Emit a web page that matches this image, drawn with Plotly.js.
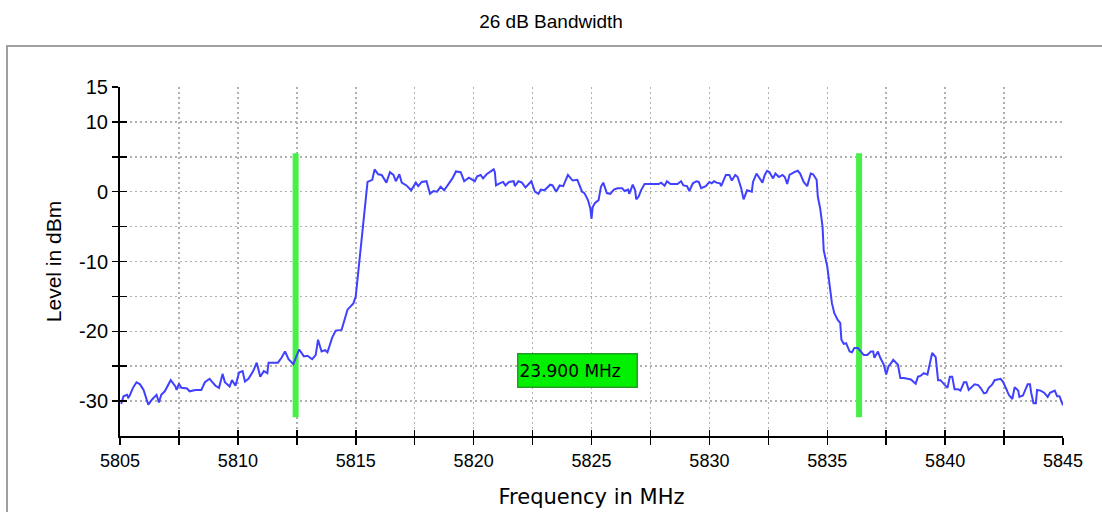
<!DOCTYPE html>
<html>
<head>
<meta charset="utf-8">
<script src="https://cdn.plot.ly/plotly-3.0.1.min.js"></script>
<style>
  html, body { margin: 0; padding: 0; background: #ffffff; }
  #chart { width: 1102px; height: 512px; }
</style>
</head>
<body>
<div id="chart"></div>
<script>
// ---- Data ----
const freq = [
  5805.05, 5805.15, 5805.3, 5805.35, 5805.4, 5805.55, 5805.7, 5805.85, 5806.0, 5806.2,
  5806.35, 5806.55, 5806.65, 5806.75, 5806.9, 5807.15, 5807.35, 5807.4, 5807.5, 5807.6,
  5807.85, 5807.95, 5808.2, 5808.45, 5808.6, 5808.8, 5808.9, 5809.05, 5809.2, 5809.35,
  5809.45, 5809.65, 5809.75, 5809.9, 5810.05, 5810.2, 5810.3, 5810.45, 5810.65, 5810.8,
  5810.95, 5811.1, 5811.25, 5811.3, 5811.5, 5811.7, 5811.85, 5812.0, 5812.15, 5812.35,
  5812.6, 5812.8, 5812.95, 5813.15, 5813.3, 5813.4, 5813.55, 5813.7, 5813.8, 5814.0,
  5814.15, 5814.4, 5814.65, 5814.9, 5815.0, 5815.1, 5815.2, 5815.3, 5815.4, 5815.5,
  5815.7, 5815.8, 5815.95, 5816.1, 5816.3, 5816.45, 5816.6, 5816.7, 5816.85, 5816.95,
  5817.15, 5817.35, 5817.55, 5817.65, 5817.8, 5818.0, 5818.15, 5818.3, 5818.45, 5818.6,
  5818.75, 5818.95, 5819.1, 5819.25, 5819.45, 5819.6, 5819.8, 5820.05, 5820.15, 5820.3,
  5820.4, 5820.55, 5820.85, 5820.9, 5820.95, 5821.1, 5821.25, 5821.35, 5821.5, 5821.7,
  5821.75, 5821.9, 5822.05, 5822.2, 5822.35, 5822.45, 5822.6, 5822.75, 5822.85, 5823.0,
  5823.25, 5823.35, 5823.5, 5823.65, 5823.8, 5824.0, 5824.2, 5824.4, 5824.6, 5824.7,
  5824.85, 5824.95, 5825.0, 5825.05, 5825.15, 5825.3, 5825.4, 5825.5, 5825.65, 5825.8,
  5825.95, 5826.1, 5826.3, 5826.4, 5826.55, 5826.6, 5826.75, 5826.85, 5826.9, 5827.0,
  5827.1, 5827.25, 5827.5, 5827.85, 5827.95, 5828.1, 5828.2, 5828.35, 5828.65, 5828.8,
  5828.9, 5829.05, 5829.15, 5829.3, 5829.45, 5829.55, 5829.65, 5829.85, 5830.0, 5830.1,
  5830.2, 5830.3, 5830.45, 5830.5, 5830.7, 5830.85, 5830.95, 5831.1, 5831.2, 5831.35,
  5831.45, 5831.6, 5831.8, 5831.85, 5832.0, 5832.15, 5832.25, 5832.35, 5832.45, 5832.55,
  5832.7, 5832.8, 5832.95, 5833.1, 5833.2, 5833.3, 5833.4, 5833.6, 5833.75, 5833.85,
  5834.0, 5834.15, 5834.3, 5834.4, 5834.55, 5834.6, 5834.7, 5834.8, 5834.85, 5835.0,
  5835.1, 5835.2, 5835.3, 5835.45, 5835.55, 5835.6, 5835.7, 5835.8, 5835.95, 5836.05,
  5836.15, 5836.3, 5836.55, 5836.7, 5836.85, 5836.95, 5837.0, 5837.15, 5837.25, 5837.4,
  5837.5, 5837.6, 5837.7, 5837.8, 5838.0, 5838.1, 5838.25, 5838.4, 5838.55, 5838.75,
  5838.85, 5838.95, 5839.1, 5839.25, 5839.3, 5839.45, 5839.6, 5839.7, 5839.8, 5839.95,
  5840.1, 5840.2, 5840.3, 5840.4, 5840.55, 5840.65, 5840.8, 5840.9, 5841.0, 5841.25,
  5841.4, 5841.5, 5841.65, 5841.75, 5841.85, 5842.0, 5842.1, 5842.35, 5842.45, 5842.6,
  5842.7, 5842.85, 5842.95, 5843.1, 5843.15, 5843.3, 5843.5, 5843.6, 5843.65, 5843.75,
  5843.85, 5843.9, 5844.05, 5844.2, 5844.35, 5844.45, 5844.65, 5844.75, 5844.85, 5845.0
];
const level = [
  -30.4, -29.3, -29.1, -29.5, -29.3, -28.1, -27.3, -27.6, -28.4, -30.5,
  -29.8, -29.1, -30.2, -29.1, -28.6, -27.0, -27.9, -28.4, -27.5, -28.1,
  -28.2, -28.6, -28.4, -28.4, -27.3, -26.8, -27.2, -27.8, -28.1, -26.1,
  -27.3, -27.9, -27.0, -27.8, -25.9, -25.7, -27.2, -26.8, -25.7, -24.5,
  -26.5, -25.7, -26.0, -24.5, -24.5, -24.5, -23.8, -22.9, -24.0, -24.7,
  -22.6, -23.6, -23.5, -24.0, -23.4, -21.2, -22.9, -22.7, -23.0, -20.9,
  -19.9, -19.8, -16.9, -16.0, -15.0, -11.7, -8.8, -4.5, -1.2, 1.4,
  1.7, 3.2, 2.5, 2.4, 1.3, 2.8, 2.4, 1.5, 2.5, 1.3,
  0.9, 0.2, 1.3, 0.8, 1.4, 1.5, -0.3, 0.1, 0.0, 0.7,
  0.2, 1.2, 1.9, 2.9, 2.8, 1.5, 2.0, 1.5, 2.2, 2.4,
  1.9, 2.5, 3.2, 2.8, 0.9, 1.2, 1.4, 0.9, 1.4, 1.5,
  0.8, 1.5, 1.3, 0.6, 1.1, 1.5, 0.0, -0.3, 0.3, 0.2,
  1.0, 0.9, 0.0, 0.9, 0.8, 2.4, 1.6, 1.7, 0.0, -0.2,
  -1.2, -2.4, -3.9, -2.2, -1.6, -1.2, 0.7, 1.3, -0.2, -0.3,
  0.3, 0.5, 0.5, 0.1, 0.3, -0.3, 1.0, 0.2, -1.1, -0.7,
  0.2, 1.1, 1.1, 1.1, 1.3, 0.85, 1.5, 1.1, 1.1, 1.5,
  0.9, 0.8, 0.1, 1.2, 1.5, 1.4, 0.5, 0.8, 1.4, 1.2,
  1.5, 1.3, 1.2, 0.8, 2.4, 2.4, 1.6, 2.4, 2.1, 0.5,
  -1.1, 0.2, 0.0, 1.4, 2.6, 1.9, 1.3, 2.4, 3.0, 2.8,
  1.9, 2.6, 2.1, 2.4, 2.1, 1.1, 2.4, 2.8, 3.0, 2.6,
  1.4, 0.8, 2.6, 2.5, 1.7, -0.7, -2.4, -5.0, -8.4, -10.7,
  -13.6, -16.0, -17.4, -18.4, -18.8, -21.2, -21.8, -21.7, -22.9, -23.0,
  -22.4, -22.4, -23.4, -23.4, -22.9, -22.9, -23.8, -22.9, -23.8, -24.8,
  -26.2, -25.0, -24.6, -24.1, -24.8, -26.7, -26.7, -26.8, -26.9, -27.5,
  -26.5, -26.4, -26.0, -26.2, -25.5, -23.1, -23.7, -27.0, -27.0, -27.5,
  -28.1, -26.5, -26.5, -28.3, -28.3, -28.5, -27.3, -27.3, -28.4, -27.6,
  -27.7, -28.1, -28.9, -28.8, -28.1, -27.6, -27.0, -26.8, -27.2, -28.3,
  -29.1, -29.7, -28.0, -28.5, -29.4, -29.2, -27.6, -27.6, -28.8, -30.3,
  -30.3, -28.4, -28.5, -28.8, -29.4, -28.8, -28.5, -29.3, -29.3, -30.6
];

// Bandwidth markers (MHz) and their vertical extent (dBm)
const markerFreqs = [5812.45, 5836.35];
const markerTop = 5.5;
const markerBottom = -32.3;
const bandwidthLabel = '23.900 MHz';
const labelLevel = -25.6;

// Axis ticks
const xTickVals = [5805, 5807.5, 5810, 5812.5, 5815, 5817.5, 5820, 5822.5, 5825,
                   5827.5, 5830, 5832.5, 5835, 5837.5, 5840, 5842.5, 5845];
const xTickText = ['5805', '', '5810', '', '5815', '', '5820', '', '5825',
                   '', '5830', '', '5835', '', '5840', '', '5845'];
const yTickVals = [-30, -25, -20, -15, -10, -5, 0, 5, 10, 15];
const yTickText = ['-30', '', '-20', '', '-10', '', '0', '', '10', '15'];
const xRange = [5805, 5845];
const yRange = [-35, 15];

// ---- Traces ----
const traces = [];
markerFreqs.forEach(function (f) {
  traces.push({
    x: [f, f], y: [markerTop, markerBottom],
    type: 'scatter', mode: 'lines',
    line: { color: '#47f047', width: 6 },
    hoverinfo: 'skip', showlegend: false
  });
});
traces.push({
  x: freq, y: level, type: 'scatter', mode: 'lines',
  line: { color: '#4040ff', width: 2 },
  name: 'Level', showlegend: false
});
// invisible helper trace so the overlay axes (inside tick halves) are drawn
traces.push({
  x: freq, y: level, type: 'scatter', mode: 'lines',
  xaxis: 'x2', yaxis: 'y2',
  line: { width: 0, color: 'rgba(0,0,0,0)' },
  hoverinfo: 'skip', showlegend: false
});

const bodyFont = 'Liberation Sans, Arial, sans-serif';

const layout = {
  width: 1102, height: 512,
  margin: { l: 120, r: 39, t: 87, b: 76, pad: 0 },
  paper_bgcolor: '#ffffff',
  plot_bgcolor: '#ffffff',
  showlegend: false,
  font: { family: bodyFont, size: 17, color: '#000000' },
  title: {
    text: '26 dB Bandwidth',
    xref: 'container', x: 0.5, xanchor: 'center',
    yref: 'container', y: 1 - 21 / 512, yanchor: 'middle',
    font: { family: bodyFont, size: 19, color: '#000000' }
  },
  xaxis: {
    range: xRange, tickmode: 'array', tickvals: xTickVals, ticktext: xTickText,
    ticks: 'outside', ticklen: 7, tickwidth: 1.5, tickcolor: '#000000',
    showline: true, linecolor: '#000000', linewidth: 2,
    showgrid: true, gridcolor: '#b0b0b0', gridwidth: 1.5, griddash: '2px,3px',
    zeroline: false,
    tickfont: { family: bodyFont, size: 18 },
    title: { text: 'Frequency in MHz', font: { family: 'DejaVu Sans, sans-serif', size: 21 }, standoff: 20 },
    automargin: false
  },
  yaxis: {
    range: yRange, tickmode: 'array', tickvals: yTickVals, ticktext: yTickText,
    ticks: 'outside', ticklen: 6, tickwidth: 1.5, tickcolor: '#000000',
    showline: true, linecolor: '#000000', linewidth: 2,
    showgrid: true, gridcolor: '#b0b0b0', gridwidth: 1.5, griddash: '2px,3px',
    zeroline: false,
    tickfont: { family: bodyFont, size: 20 },
    title: { text: 'Level in dBm', font: { family: 'Liberation Sans, Arial, sans-serif', size: 21 }, standoff: 12 },
    automargin: false
  },
  xaxis2: {
    overlaying: 'x', anchor: 'y2', side: 'bottom', range: xRange,
    tickmode: 'array', tickvals: xTickVals, showticklabels: false,
    ticks: 'inside', ticklen: 6, tickwidth: 1.5, tickcolor: '#000000',
    showgrid: false, zeroline: false, showline: false
  },
  yaxis2: {
    overlaying: 'y', anchor: 'x2', side: 'left', range: yRange,
    tickmode: 'array', tickvals: yTickVals, showticklabels: false,
    ticks: 'inside', ticklen: 7, tickwidth: 1.5, tickcolor: '#000000',
    showgrid: false, zeroline: false, showline: false
  },
  shapes: [{
    type: 'rect', xref: 'paper', yref: 'paper', layer: 'below',
    x0: (7 - 120) / 943, x1: 1.2, y0: -0.4, y1: (436 - 46) / 349,
    line: { color: '#a0a0a0', width: 2 }, fillcolor: 'rgba(0,0,0,0)'
  }],
  annotations: [{
    x: (markerFreqs[0] + markerFreqs[1]) / 2, y: labelLevel,
    xref: 'x', yref: 'y', showarrow: false,
    text: bandwidthLabel, align: 'left',
    font: { family: 'DejaVu Sans, sans-serif', size: 17, color: '#000000' },
    bgcolor: '#00f000', bordercolor: '#20a020', borderwidth: 1.5,
    width: 116, height: 30, borderpad: 1
  }]
};

Plotly.newPlot('chart', traces, layout, { displayModeBar: false, staticPlot: true });
</script>
</body>
</html>
